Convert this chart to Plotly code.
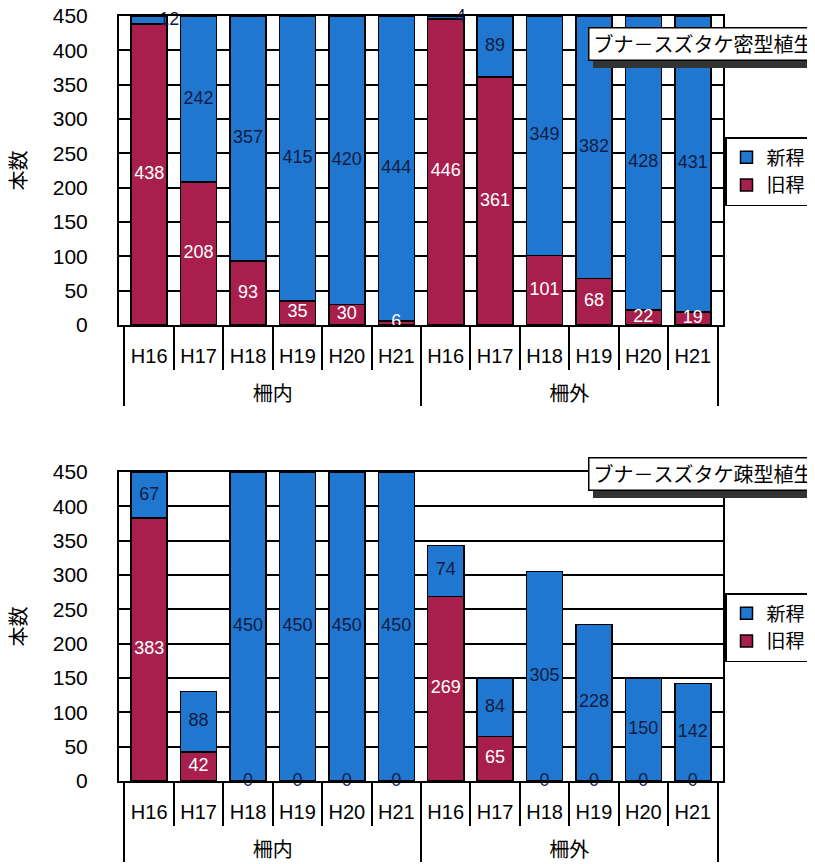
import plotly.graph_objects as go

# ---- data ----
groups = ["柵内"] * 6 + ["柵外"] * 6
years = ["H16", "H17", "H18", "H19", "H20", "H21"] * 2

dense_old = [438, 208, 93, 35, 30, 6, 446, 361, 101, 68, 22, 19]      # 旧稈
dense_new = [12, 242, 357, 415, 420, 444, 4, 89, 349, 382, 428, 431]  # 新稈
sparse_old = [383, 42, 0, 0, 0, 0, 269, 65, 0, 0, 0, 0]
sparse_new = [67, 88, 450, 450, 450, 450, 74, 84, 305, 228, 150, 142]

titles = ["ブナ－スズタケ密型植生", "ブナ－スズタケ疎型植生"]
y_ticks = [0, 50, 100, 150, 200, 250, 300, 350, 400, 450]

BLUE = "#1f77cf"
RED = "#a81f4d"
NAVY = "#141c44"
FONT = "Liberation Sans, Noto Sans CJK JP, sans-serif"

# page body has an 8px default margin; the figure fills the rest of the window
OFF = 8
W, H = 815 - OFF, 864 - OFF
ML, MR, MT, MB = 119 - OFF, 92, 16 - OFF, 83
PW, PH = W - ML - MR, H - MT - MB


def py(pix):
    """window pixel row -> paper y"""
    return (H - MB - (pix - OFF)) / PH


def px(pix):
    """window pixel column -> paper x"""
    return (pix - OFF - ML) / PW


fig = go.Figure()
# group labels get a leading blank line so they sit below the year labels
x = [["<br>" + g for g in groups], years]
panels = [(dense_old, dense_new, "x", "y", "legend"),
          (sparse_old, sparse_new, "x2", "y2", "legend2")]

for old, new, xa, ya, lg in panels:
    fig.add_trace(go.Bar(x=x, y=old, name="旧稈", marker=dict(color=RED, line=dict(color="black", width=1.5)),
                         xaxis=xa, yaxis=ya, legend=lg))
    fig.add_trace(go.Bar(x=x, y=new, name="新稈", marker=dict(color=BLUE, line=dict(color="black", width=1.5)),
                         xaxis=xa, yaxis=ya, legend=lg))
    # labels
    old_mid = [v / 2 for v in old]
    new_mid = [o + n / 2 for o, n in zip(old, new)]
    fig.add_trace(go.Scatter(x=x, y=old_mid, mode="text", text=[str(v) for v in old],
                             textfont=dict(family=FONT, size=18,
                                           color=["white" if v > 0 else NAVY for v in old]),
                             textposition="middle center", cliponaxis=False, showlegend=False,
                             hoverinfo="skip", xaxis=xa, yaxis=ya))
    fig.add_trace(go.Scatter(x=x, y=new_mid, mode="text", text=[("  " + str(v)) if v < 15 else str(v) for v in new],
                             textfont=dict(family=FONT, size=18, color=NAVY),
                             textposition=["middle right" if v < 15 else "middle center" for v in new],
                             cliponaxis=False, showlegend=False,
                             hoverinfo="skip", xaxis=xa, yaxis=ya))

xcommon = dict(type="multicategory", showline=True, linecolor="black", linewidth=2, mirror=True,
               ticks="outside", ticklen=43, tickwidth=2, tickcolor="black", ticklabelstandoff=12,
               showdividers=True, dividercolor="black", dividerwidth=2, automargin=False,
               tickfont=dict(family=FONT, size=20, color="black"), showgrid=False)
ycommon = dict(range=[0, 450], tickvals=y_ticks, showgrid=True, gridcolor="black", gridwidth=1.5,
               showline=True, linecolor="black", linewidth=2, mirror=True, ticks="",
               ticklabelstandoff=25, ticklabeloverflow="allow", zeroline=False, automargin=False,
               tickfont=dict(family=FONT, size=21, color="black"),
               title=dict(text="本数", font=dict(family=FONT, size=20, color="black"), standoff=24))

top_dom = [py(325), 1.0]
bot_dom = [0.0, py(472)]

leg = dict(xanchor="left", yanchor="top", bordercolor="black", borderwidth=1.5,
           bgcolor="white", font=dict(family=FONT, size=19), traceorder="reversed", itemwidth=30,
           tracegroupgap=0)

fig.update_layout(
    width=W, height=H, margin=dict(l=ML, r=MR, t=MT, b=MB, autoexpand=False),
    paper_bgcolor="white", plot_bgcolor="white",
    barmode="stack", bargap=0.27,
    font=dict(family=FONT, color="black"),
    xaxis=dict(xcommon, anchor="y", domain=[0, 1]),
    yaxis=dict(ycommon, anchor="x", domain=top_dom),
    xaxis2=dict(xcommon, anchor="y2", domain=[0, 1]),
    yaxis2=dict(ycommon, anchor="x2", domain=bot_dom),
    legend=dict(leg, x=px(725), y=py(137)),
    legend2=dict(leg, x=px(725), y=py(593)),
    showlegend=True,
)

for t, top in zip(titles, [27, 457]):
    fig.add_shape(type="rect", xref="paper", yref="paper", x0=px(593), x1=px(830),
                  y0=py(top + 41), y1=py(top + 4), fillcolor="#333333", line=dict(width=0), layer="above")
    fig.add_annotation(text=t, xref="paper", yref="paper", x=px(588), y=py(top), xanchor="left", yanchor="top",
                       showarrow=False, bgcolor="white", bordercolor="black", borderwidth=1.5, borderpad=4,
                       font=dict(family=FONT, size=20, color="black"))

fig.write_html("out.html")
